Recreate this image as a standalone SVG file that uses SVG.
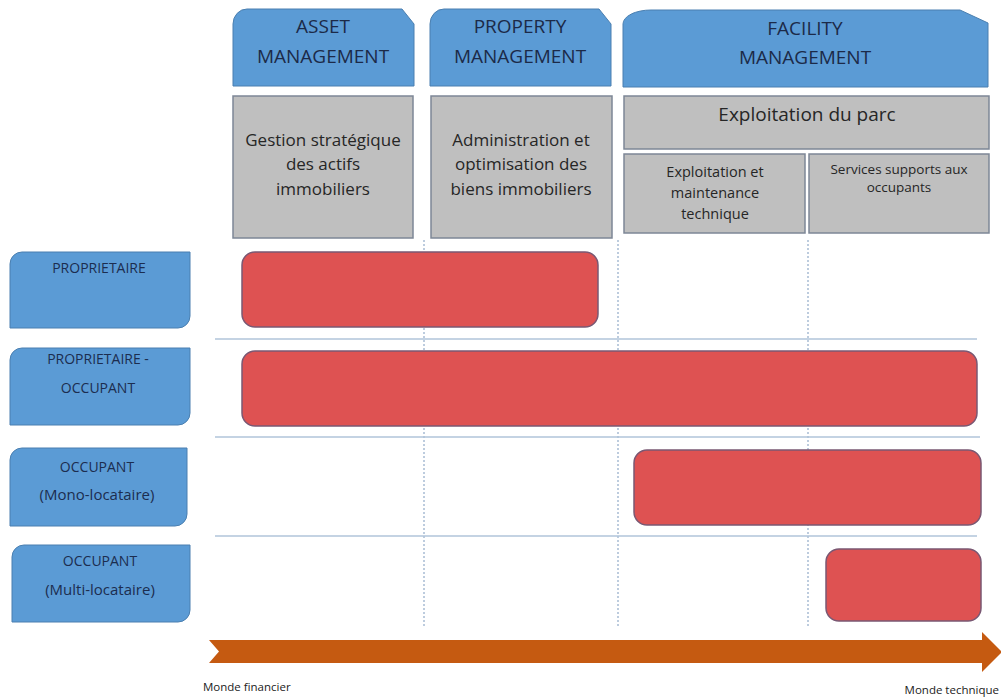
<svg xmlns="http://www.w3.org/2000/svg" width="1001" height="698" viewBox="0 0 1001 698">
<style>
.hdr{fill:#5b9bd5;stroke:#4a7fb0;stroke-width:1}
.grey{fill:#bfbfbf;stroke:#7d8796;stroke-width:1.5}
.bar{fill:#de5252;stroke:#7a5873;stroke-width:1.5}
.row{fill:#5b9bd5;stroke:#4a7fb0;stroke-width:1}
.sep{stroke:#b0c4da;stroke-width:1.5;fill:none}
.vd{stroke:#92abc8;stroke-width:1.2;stroke-dasharray:2 2;fill:none}
text{font-family:"Open Sans","Liberation Sans",sans-serif;text-anchor:middle}
.ht{font-size:19px;fill:#1c2a48}
.gt{font-size:17px;fill:#262626}
.st{font-size:14px;fill:#262626}
.rt{font-size:14px;fill:#1c2d4f}
.ft{font-size:11.5px;fill:#222;text-anchor:start}
</style>

<g id="connectors">
  <path class="vd" d="M424,240 V628"/>
  <path class="vd" d="M618,240 V628"/>
  <path class="vd" d="M808,240 V628"/>
  <path class="sep" d="M215,339 H977"/>
  <path class="sep" d="M215,437 H980"/>
  <path class="sep" d="M215,536 H977"/>
</g>

<g id="asset-management">
  <path class="hdr" d="M233,86 V24 A14,15 0 0 1 247,9 H402 L414,24 V86 Z"/>
  <text class="ht" x="323" y="33">ASSET</text>
  <text class="ht" x="323" y="63">MANAGEMENT</text>
</g>
<g id="property-management">
  <path class="hdr" d="M430,86 V24 A14,15 0 0 1 444,9 H599 L611,24 V86 Z"/>
  <text class="ht" x="520" y="33">PROPERTY</text>
  <text class="ht" x="520" y="63">MANAGEMENT</text>
</g>
<g id="facility-management">
  <path class="hdr" d="M623,87 V24 A28,14 0 0 1 651,10 H960 L988,23 V87 Z"/>
  <text class="ht" x="805" y="35">FACILITY</text>
  <text class="ht" x="805" y="64">MANAGEMENT</text>
</g>

<g id="gestion-strategique">
  <rect class="grey" x="233" y="96" width="180" height="142"/>
  <text class="gt" x="323" y="146">Gestion stratégique</text>
  <text class="gt" x="323" y="170">des actifs</text>
  <text class="gt" x="323" y="195">immobiliers</text>
</g>
<g id="administration">
  <rect class="grey" x="431" y="96" width="181" height="142"/>
  <text class="gt" x="521" y="146">Administration et</text>
  <text class="gt" x="521" y="170">optimisation des</text>
  <text class="gt" x="521" y="195">biens immobiliers</text>
</g>
<g id="exploitation-parc">
  <rect class="grey" x="624" y="96" width="365" height="53"/>
  <text class="gt" x="807" y="121" style="font-size:19px">Exploitation du parc</text>
</g>
<g id="exploitation-maintenance">
  <rect class="grey" x="624" y="154" width="181" height="79"/>
  <text class="st" x="715" y="177" style="font-size:14.5px">Exploitation et</text>
  <text class="st" x="715" y="198" style="font-size:14.5px">maintenance</text>
  <text class="st" x="715" y="219" style="font-size:14.5px">technique</text>
</g>
<g id="services-supports">
  <rect class="grey" x="809" y="154" width="180" height="79"/>
  <text class="st" x="899" y="174" style="font-size:13.5px">Services supports aux</text>
  <text class="st" x="899" y="192" style="font-size:13.5px">occupants</text>
</g>

<g id="proprietaire">
  <path class="row" d="M10,328 V264 A12,12 0 0 1 22,252 H190 V316 A12,12 0 0 1 178,328 Z"/>
  <text class="rt" x="99" y="273">PROPRIETAIRE</text>
</g>
<g id="proprietaire-occupant">
  <path class="row" d="M10,425 V360 A12,12 0 0 1 22,348 H190 V413 A12,12 0 0 1 178,425 Z"/>
  <text class="rt" x="98" y="364">PROPRIETAIRE -</text>
  <text class="rt" x="98" y="393">OCCUPANT</text>
</g>
<g id="occupant-mono">
  <path class="row" d="M10,526 V460 A12,12 0 0 1 22,448 H187 V514 A12,12 0 0 1 175,526 Z"/>
  <text class="rt" x="97" y="472">OCCUPANT</text>
  <text class="rt" x="97" y="500" style="font-size:15px">(Mono-locataire)</text>
</g>
<g id="occupant-multi">
  <path class="row" d="M12,622 V557 A12,12 0 0 1 24,545 H190 V610 A12,12 0 0 1 178,622 Z"/>
  <text class="rt" x="100" y="566">OCCUPANT</text>
  <text class="rt" x="100" y="595" style="font-size:15px">(Multi-locataire)</text>
</g>

<g id="bar-proprietaire">
  <rect class="bar" x="242" y="252" width="356" height="75" rx="13"/>
</g>
<g id="bar-proprietaire-occupant">
  <rect class="bar" x="242" y="351" width="735" height="75" rx="13"/>
</g>
<g id="bar-occupant-mono">
  <rect class="bar" x="634" y="450" width="347" height="75" rx="13"/>
</g>
<g id="bar-occupant-multi">
  <rect class="bar" x="826" y="549" width="155" height="72" rx="13"/>
</g>

<g id="axis-arrow">
  <polygon points="209,640 982,640 982,632 1002,652 982,672 982,663 209,663 219,651.5" fill="#c55a11"/>
  <text class="ft" x="203" y="691">Monde financier</text>
  <text class="ft" x="999" y="694" style="text-anchor:end">Monde technique</text>
</g>
</svg>
